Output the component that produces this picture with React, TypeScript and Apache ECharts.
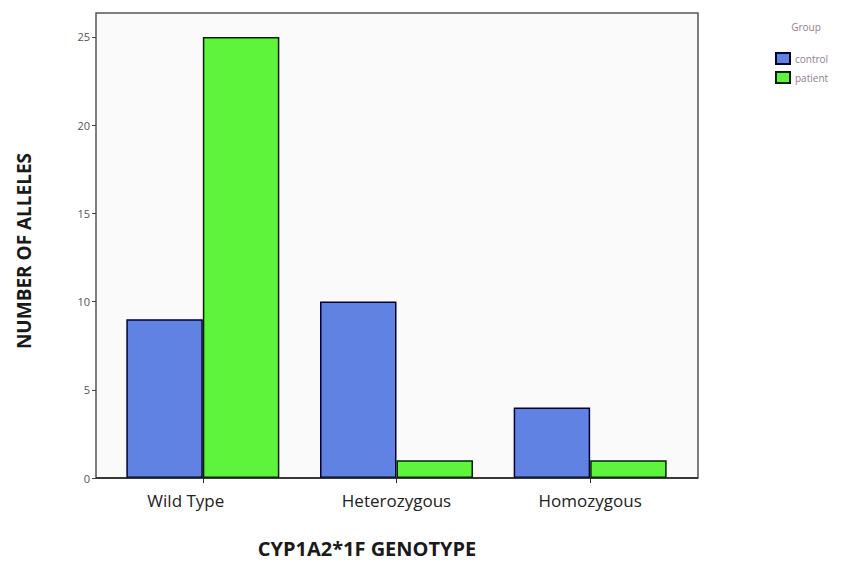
import React, { useEffect, useRef } from "react";
import * as echarts from "echarts";

const categories = ["Wild Type", "Heterozygous", "Homozygous"];
const controlValues = [9, 10, 4];
const patientValues = [25, 1, 1];
const seriesNames = ["control", "patient"];

export default function App() {
  const ref = useRef<HTMLDivElement>(null);
  useEffect(() => {
    const chart = echarts.init(ref.current!, null, { renderer: "svg" });
    const font = "'Open Sans', 'Liberation Sans', sans-serif";
    chart.setOption({
      animation: false,
      backgroundColor: "#ffffff",
      grid: { left: 106, right: 155, top: 13, bottom: 85, containLabel: false },
      graphic: [
        {
          type: "rect",
          z: -10,
          shape: { x: 96, y: 13, width: 602, height: 465 },
          style: { fill: "#fafafa", stroke: "#555555", lineWidth: 1.5 },
        },
        {
          type: "line",
          z: 10,
          shape: { x1: 96, y1: 478, x2: 698, y2: 478 },
          style: { stroke: "#222222", lineWidth: 1.5 },
        },
        {
          type: "text",
          x: 806,
          y: 27,
          style: { text: "Group", fill: "#8f7f8f", font: `10px ${font}`, align: "center", verticalAlign: "middle" },
        },
        {
          type: "text",
          x: 367,
          y: 548,
          style: { text: "CYP1A2*1F GENOTYPE", fill: "#1a1a1a", font: `bold 20px ${font}`, align: "center", verticalAlign: "middle" },
        },
        {
          type: "text",
          x: 24,
          y: 251,
          rotation: Math.PI / 2,
          style: { text: "NUMBER OF ALLELES", fill: "#1a1a1a", font: `bold 19px ${font}`, align: "center", verticalAlign: "middle" },
        },
      ],
      legend: {
        orient: "vertical",
        left: 770,
        top: 47,
        itemWidth: 14,
        itemHeight: 11,
        itemGap: 6,
        icon: "rect",
        data: seriesNames,
        textStyle: { fontSize: 10, color: "#8f8090", fontFamily: font },
      },
      xAxis: {
        type: "category",
        data: categories.map((c, i) =>
          i === 0 ? { value: c, textStyle: { padding: [0, 34, 0, 0] } } : c
        ),
        axisLine: { show: false },
        axisTick: { show: true, alignWithLabel: true, length: 5, lineStyle: { color: "#333" } },
        axisLabel: { fontSize: 17, color: "#222", fontFamily: font, margin: 14 },
      },
      yAxis: {
        type: "value",
        min: 0,
        max: 26.36,
        interval: 5,
        offset: 10,
        splitLine: { show: false },
        axisLine: { show: false },
        axisTick: { show: true, length: 4, lineStyle: { color: "#444" } },
        axisLabel: { fontSize: 11, color: "#555", fontFamily: font, margin: 6, showMaxLabel: false },
      },
      series: [
        {
          name: seriesNames[0],
          type: "bar",
          data: controlValues,
          barGap: "0%",
          barCategoryGap: "21%",
          itemStyle: { color: "#5f82e3", borderColor: "#000033", borderWidth: 1.5 },
        },
        {
          name: seriesNames[1],
          type: "bar",
          data: patientValues,
          itemStyle: { color: "#5ef43c", borderColor: "#002200", borderWidth: 1.5 },
        },
      ],
    });
    return () => chart.dispose();
  }, []);
  return <div ref={ref} style={{ width: 842, height: 563, position: "absolute", left: 0, top: 0 }} />;
}
